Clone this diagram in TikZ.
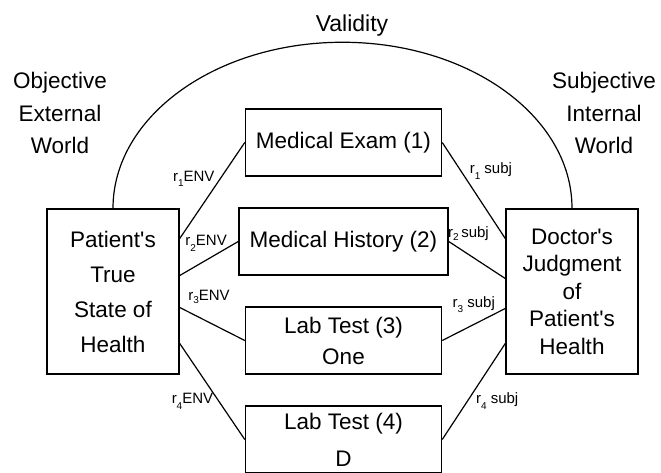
\documentclass[tikz,border=0pt]{standalone}
\usepackage{fontspec}
\setmainfont{Liberation Sans}
\usetikzlibrary{positioning}

\begin{document}
\begin{tikzpicture}[x=1pt,y=1pt,node distance=99pt,on grid,
	box/.style={draw,line width=1.5pt,align=center,minimum width=196pt,minimum height=67pt,inner sep=0pt,font=\fontsize{22.5}{31}\selectfont},
	bigbox/.style={box,minimum width=132pt,minimum height=165pt},
	wire/.style={line width=1.2pt},
	lbl/.style={font=\fontsize{15}{15}\selectfont,inner sep=2pt},
	side/.style={align=center,font=\fontsize{22.5}{32.5}\selectfont}]
		\useasboundingbox (0,0) rectangle (661,472);
		\clip (0,0) rectangle (661,472);
		\node[bigbox,font=\fontsize{22.5}{35}\selectfont] (health) at (113,180.5) {Patient\textquotesingle s\\True\\State of\\Health};
		\node[bigbox,font=\fontsize{22.5}{27.5}\selectfont] (judge) [right=459pt of health] {Doctor\textquotesingle s\\Judgment\\of\\Patient\textquotesingle s\\Health};
		\node[box] (exam) at (343.5,329.5) {Medical Exam (1)};
		\node[box,minimum width=209pt] (history) [below of=exam] {Medical History (2)};
		\node[box] (lab3) [below of=history] {Lab Test (3)\\One};
		\node[box,font=\fontsize{22.5}{37}\selectfont] (lab4) [below of=lab3] {Lab Test (4)\\D};
		\node[side] (objective) at (60,359) {Objective\\External\\World};
		\node[side] (subjective) at (604,359) {Subjective\\Internal\\World};
		\node[font=\fontsize{23}{23}\selectfont] (validity) at (352,446) {Validity};
		\draw[wire] (health.north) arc[start angle=180,end angle=0,x radius=229.5,y radius=166];
		\draw[wire]
			([yshift=53pt]health.east) -- node[lbl,pos=0.62,left=3pt] {r\raisebox{-0.7ex}{\fontsize{10}{10}\selectfont 1}ENV} (exam.west)
			([yshift=16pt]health.east) -- node[lbl,pos=0.45,above=6pt] {r\raisebox{-0.8ex}{\fontsize{10}{10}\selectfont 2}ENV} (history.west)
			([yshift=-16pt]health.east) -- node[lbl,pos=0.45,above=16pt] {r\raisebox{-0.4ex}{\fontsize{10}{10}\selectfont 3}ENV} (lab3.west)
			([yshift=-52pt]health.east) -- node[lbl,pos=0.6,left=3pt] {r\raisebox{-0.7ex}{\fontsize{10}{10}\selectfont 4}ENV} (lab4.west);
		\draw[wire]
			(exam.east) -- node[lbl,pos=0.3,right=6pt] {r\raisebox{-0.7ex}{\fontsize{10}{10}\selectfont 1} subj} ([yshift=53pt]judge.west)
			(history.east) -- node[lbl,pos=0.35,above=11pt] {r\raisebox{-0.4ex}{\fontsize{10}{10}\selectfont 2}\,subj} ([yshift=13pt]judge.west)
			(lab3.east) -- node[lbl,pos=0.5,above=9pt] {r\raisebox{-0.7ex}{\fontsize{10}{10}\selectfont 3} subj} ([yshift=-17pt]judge.west)
			(lab4.east) -- node[lbl,pos=0.4,right=6pt] {r\raisebox{-0.7ex}{\fontsize{10}{10}\selectfont 4} subj} ([yshift=-52pt]judge.west);
\end{tikzpicture}
\end{document}
